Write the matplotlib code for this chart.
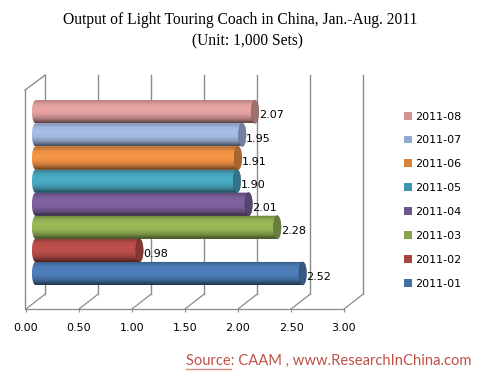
import numpy as np
import matplotlib
matplotlib.use("Agg")
import matplotlib.pyplot as plt
from matplotlib.patches import Ellipse, Patch, PathPatch
from matplotlib.path import Path

months = ["2011-01", "2011-02", "2011-03", "2011-04", "2011-05", "2011-06", "2011-07", "2011-08"]
values = [2.52, 0.98, 2.28, 2.01, 1.90, 1.91, 1.95, 2.07]
bar_colors = ["#4F81BD", "#C0504D", "#9BBB59", "#8064A2", "#4BACC6", "#F79646", "#A9BEE8", "#EBA5A5"]
legend_colors = ["#416FA6", "#A8423F", "#86A44A", "#6E548D", "#3D96AE", "#DA8137", "#93A9CF", "#D19392"]
xticks = [0, 0.5, 1, 1.5, 2, 2.5, 3]

W, H = 480, 379
plt.rcParams["font.family"] = "DejaVu Sans"
fig = plt.figure(figsize=(W / 100, H / 100), dpi=100, facecolor="white")

# axes frame in pixels
PXU = 106.0       # pixels per x unit
PYU = 23.1        # pixels per category
L, B, R, T = 26, 309, 365, 75
ax = fig.add_axes([L / W, 1 - B / H, (R - L) / W, (B - T) / H])
x_max = (R - L) / PXU
y_min = -1.537
y_max = y_min + (B - T) / PYU
ax.set_xlim(0, x_max)
ax.set_ylim(y_min, y_max)
ax.patch.set_visible(False)
for s in ax.spines.values():
    s.set_visible(False)

dx, dy = 19.3 / PXU, 15 / PYU
wall_top = y_min + 219 / PYU + dy
GRID = "#8C8C8C"
for t in xticks:
    ax.plot([t, t + dx], [y_min, y_min + dy], color=GRID, lw=0.9, zorder=1, clip_on=False)
    ax.plot([t + dx, t + dx], [y_min + dy, wall_top], color=GRID, lw=1.0, zorder=1, clip_on=False)
ax.plot([0, xticks[-1]], [y_min, y_min], color=GRID, lw=0.9, zorder=1, clip_on=False)
ax.plot([-0.009, -0.009], [y_min, wall_top - dy], color=GRID, lw=1.0, zorder=1, clip_on=False)
ax.plot([-0.009, dx], [wall_top - dy, wall_top], color=GRID, lw=1.0, zorder=1, clip_on=False)
ax.set_xticks(xticks)
ax.set_xticklabels([f"{t:.2f}" for t in xticks], fontsize=8)
for lab in ax.get_xticklabels():
    lab.set_x(lab.get_position()[0])
ax.set_yticks([])
ax.tick_params(axis="x", length=2.2, width=0.8, color=GRID, pad=8)

stops = [0.0, 0.06, 0.2, 0.42, 0.62, 0.82, 0.94, 1.0]
shade = [0.68, 0.78, 0.95, 1.0, 0.96, 0.76, 0.52, 0.40]
frac = np.linspace(0, 1, 48)
grad = np.interp(frac, stops, shade)
x0 = 9.6 / PXU
capw = 7.4 / PXU
h = 1.0

for i in range(len(values)):
    y, v = i, values[i]
    rgb = np.array(matplotlib.colors.to_rgb(bar_colors[i]))
    ax.barh(y, v, left=x0, height=h, color=bar_colors[i], zorder=2)
    img = np.clip(grad[:, None, None] * rgb[None, None, :], 0, 1)
    im = ax.imshow(img, extent=[x0 - capw / 2, x0 + v, y - h / 2, y + h / 2], origin="upper",
                   aspect="auto", zorder=3, interpolation="bilinear")
    k = 0.5523
    a, b, c = x0, capw / 2, h / 2
    verts = [(a, y - c),
             (a - k * b, y - c), (a - b, y - k * c), (a - b, y),
             (a - b, y + k * c), (a - k * b, y + c), (a, y + c),
             (a + v, y + c), (a + v, y - c), (a, y - c)]
    codes = [Path.MOVETO, Path.CURVE4, Path.CURVE4, Path.CURVE4, Path.CURVE4, Path.CURVE4, Path.CURVE4,
             Path.LINETO, Path.LINETO, Path.CLOSEPOLY]
    clip = PathPatch(Path(verts, codes), transform=ax.transData, fc="none", ec="none")
    ax.add_patch(clip)
    im.set_clip_path(clip)
    cap_rgb = rgb * 0.68
    ax.add_patch(Ellipse((x0 + v, y), capw, h, fc=cap_rgb, ec=rgb * 0.55, lw=0.4, zorder=4))
    ax.annotate(f"{v:.2f}", xy=(x0 + v, y), xytext=(2.8, -2.6), textcoords="offset points",
                fontsize=8, ha="left", va="center", color="black", zorder=6)

ax.set_xlim(0, x_max)
ax.set_ylim(y_min, y_max)

handles = [Patch(facecolor=legend_colors[i], edgecolor="none", label=months[i]) for i in range(7, -1, -1)]
leg = fig.legend(handles=handles, loc="upper left", bbox_to_anchor=(404 / W, 1 - 111.5 / H), frameon=False,
                 fontsize=8, handlelength=0.72, handleheight=0.72, handletextpad=0.32,
                 labelspacing=1.25, borderpad=0, borderaxespad=0)

fig.text(240 / W, 1 - 20 / H, "Output of Light Touring Coach in China, Jan.-Aug. 2011",
         family="Liberation Serif", fontsize=11.2, ha="center", va="center", color="black")
fig.text(247 / W, 1 - 41 / H, "(Unit: 1,000 Sets)",
         family="Liberation Serif", fontsize=11.2, ha="center", va="center", color="black")

SRC = "#BF5147"
fig.text(186 / W, 1 - 361 / H, "Source: CAAM , www.ResearchInChina.com",
         family="Lato", fontsize=10.6, ha="left", va="center", color=SRC)
fig.add_artist(plt.Line2D([186 / W, 231 / W], [1 - 369 / H, 1 - 369 / H], color="#D98A80", lw=1.0))

fig.savefig("out.png", dpi=100, facecolor="white")
